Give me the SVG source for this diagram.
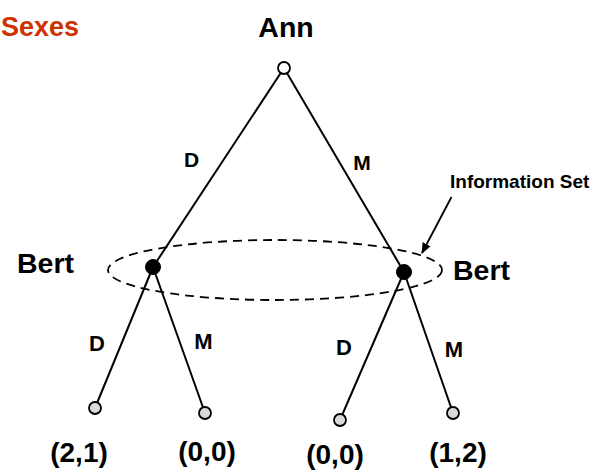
<svg xmlns="http://www.w3.org/2000/svg" width="596" height="474" viewBox="0 0 596 474">
<style>
text{font-family:"Liberation Sans",Arial,sans-serif;font-weight:bold;fill:#000}
.edge{stroke:#000;stroke-width:2;fill:none}
.leaf{fill:#d9d9d9;stroke:#000;stroke-width:1.8}
.dec{fill:#000;stroke:#000;stroke-width:1}
.lbl{font-size:21px;text-anchor:middle}
.lbl2{font-size:22px;text-anchor:middle}
.pay{font-size:28px;text-anchor:middle}
.name{font-size:28.5px}
</style>
<defs>
<marker id="ah" markerWidth="12" markerHeight="12" refX="10" refY="6" orient="auto" markerUnits="userSpaceOnUse">
<path d="M0,1.5 L11,6 L0,10.5 Z" fill="#000"/>
</marker>
</defs>
<text x="79" y="36" font-size="27" text-anchor="end" style="fill:#cc3300">Sexes</text>
<g id="connectors">
<line class="edge" x1="284" y1="68" x2="153" y2="267"/>
<line class="edge" x1="284" y1="68" x2="404" y2="272"/>
<line class="edge" x1="153" y1="267" x2="95" y2="408"/>
<line class="edge" x1="153" y1="267" x2="205" y2="413"/>
<line class="edge" x1="404" y1="272" x2="340" y2="420"/>
<line class="edge" x1="404" y1="272" x2="453" y2="413"/>
<ellipse cx="275" cy="270" rx="167" ry="30" fill="none" stroke="#000" stroke-width="1.8" stroke-dasharray="9,6"/>
<line x1="451.5" y1="197" x2="422" y2="253" stroke="#000" stroke-width="1.8" marker-end="url(#ah)"/>
<text class="lbl" x="191.5" y="166.5">D</text>
<text class="lbl" x="362" y="170">M</text>
<text class="lbl2" x="97" y="350.5">D</text>
<text class="lbl2" x="203.5" y="348.5">M</text>
<text class="lbl2" x="344" y="355">D</text>
<text class="lbl2" x="454" y="357">M</text>
</g>
<g id="ann">
<text x="286" y="37" font-size="28.5" text-anchor="middle">Ann</text>
<circle cx="284" cy="68" r="6" fill="#fff" stroke="#000" stroke-width="1.8"/>
</g>
<g id="bert-left">
<circle class="dec" cx="153" cy="267" r="7.5"/>
<text class="name" x="17" y="273">Bert</text>
</g>
<g id="bert-right">
<circle class="dec" cx="404" cy="272" r="7.5"/>
<text class="name" x="453" y="280">Bert</text>
</g>
<g id="infoset-label">
<text x="450" y="188" font-size="19">Information Set</text>
</g>
<g id="leaf1"><circle class="leaf" cx="95" cy="408" r="6"/><text class="pay" x="79" y="462">(2,1)</text></g>
<g id="leaf2"><circle class="leaf" cx="205" cy="413" r="6"/><text class="pay" x="207" y="461">(0,0)</text></g>
<g id="leaf3"><circle class="leaf" cx="340" cy="420" r="6"/><text class="pay" x="335" y="464">(0,0)</text></g>
<g id="leaf4"><circle class="leaf" cx="453" cy="413" r="6"/><text class="pay" x="458" y="462">(1,2)</text></g>
</svg>
